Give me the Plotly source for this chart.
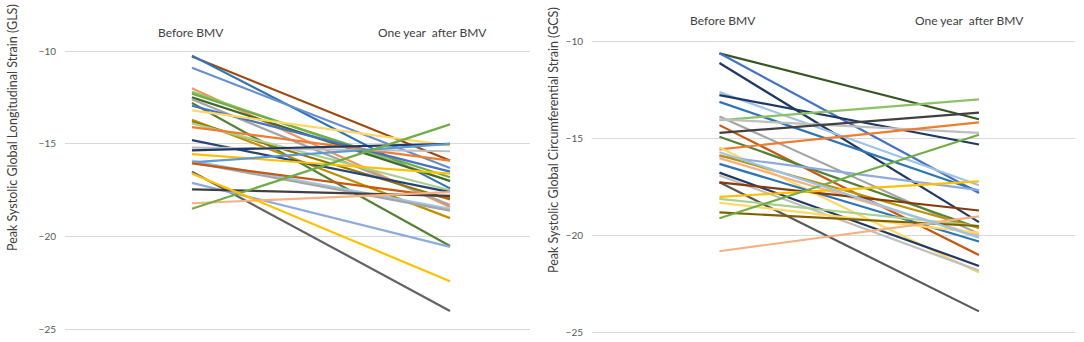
import plotly.graph_objects as go

categories = ["Before BMV", "One year  after BMV"]

# Left panel: GLS (before, after) per patient
gls_before = [-10.3, -10.25, -10.9, -12.0, -12.2, -12.3, -12.5, -12.6, -12.8, -12.95,
              -13.2, -13.7, -13.8, -13.9, -14.1, -14.8, -15.2, -15.35, -15.55, -15.9,
              -16.0, -16.0, -16.05, -16.5, -17.1, -17.45, -18.2, -18.5, -16.6]
gls_after = [-15.9, -17.4, -16.3, -18.4, -17.0, -16.8, -17.0, -18.3, -20.5, -16.5,
             -15.1, -19.0, -18.0, -17.5, -15.9, -17.6, -15.4, -15.0, -16.6, -18.5,
             -15.0, -18.6, -17.9, -24.0, -20.55, -17.8, -17.6, -13.95, -22.4]
gls_colors = ["#9E480E", "#2E75B6", "#698ED0", "#F1975A", "#8CC168", "#70AD47", "#43682B", "#A5A5A5", "#548235", "#4472C4",
              "#FFD966", "#BF9000", "#997300", "#A9D18E", "#ED7D31", "#264478", "#BFBFBF", "#1F3864", "#FFC000", "#9DC3E6",
              "#5B9BD5", "#A5A5A5", "#C55A11", "#636363", "#8FAADC", "#404040", "#F4B183", "#70AD47", "#FFC000"]

# Right panel: GCS (before, after) per patient
gcs_before = [-10.6, -10.6, -11.1, -12.6, -12.75, -13.1, -13.85, -14.05, -14.0, -14.3,
              -14.7, -14.9, -15.55, -15.45, -15.9, -15.85, -16.0, -16.3, -16.75, -16.9,
              -17.25, -17.25, -18.0, -18.1, -18.3, -18.8, -19.1, -20.8, -15.7]
gcs_after = [-14.0, -17.8, -19.3, -17.4, -15.3, -17.7, -19.9, -12.97, -14.7, -21.0,
             -13.66, -19.6, -14.16, -21.9, -17.65, -19.6, -20.0, -20.3, -21.56, -21.8,
             -23.9, -18.7, -17.2, -19.5, -19.85, -19.5, -14.8, -19.0, -20.1]
gcs_colors = ["#375623", "#4472C4", "#203864", "#9DC3E6", "#1F3864", "#2E75B6", "#A5A5A5", "#8CC168", "#BFBFBF", "#C55A11",
              "#404040", "#548235", "#ED7D31", "#FFD966", "#8FAADC", "#BF9000", "#F4B183", "#2E75B6", "#203864", "#BFBFBF",
              "#595959", "#843C0C", "#FFC000", "#A9D18E", "#FFD966", "#7F6000", "#70AD47", "#F4B183", "#9DC3E6"]

y_ticks = [-10, -15, -20, -25]

fig = go.Figure()
for b, a, c in zip(gls_before, gls_after, gls_colors):
    fig.add_trace(go.Scatter(x=categories, y=[b, a], mode="lines",
                             line=dict(color=c, width=2.2), xaxis="x", yaxis="y",
                             showlegend=False, hoverinfo="y"))
for b, a, c in zip(gcs_before, gcs_after, gcs_colors):
    fig.add_trace(go.Scatter(x=categories, y=[b, a], mode="lines",
                             line=dict(color=c, width=2.2), xaxis="x2", yaxis="y2",
                             showlegend=False, hoverinfo="y"))

W, H = 1084, 342

def px_x(p):
    return p / W

def px_y(p):
    return 1 - p / H

axis_common = dict(showgrid=True, gridcolor="#D9D9D9", gridwidth=1, zeroline=False,
                   showline=False, ticks="", tickvals=y_ticks, automargin=False,
                   tickfont=dict(family="Lato", size=10, color="#595959"),
                   ticklabelstandoff=8, range=[-25.2, -9.8])

fig.update_layout(
    width=W, height=H,
    margin=dict(l=0, r=0, t=0, b=0),
    paper_bgcolor="white", plot_bgcolor="white",
    xaxis=dict(domain=[px_x(65), px_x(530)], type="category", range=[-0.492, 1.31], automargin=False,
               showgrid=False, showticklabels=False, zeroline=False, anchor="y"),
    yaxis=dict(domain=[px_y(329.5 + 0.2 * 18.55), px_y(51 - 0.2 * 18.55)], anchor="x", **axis_common),
    xaxis2=dict(domain=[px_x(592), px_x(1075)], type="category", range=[-0.491, 1.37], automargin=False,
                showgrid=False, showticklabels=False, zeroline=False, anchor="y2"),
    yaxis2=dict(domain=[px_y(332.7 + 0.2 * 19.4), px_y(41.7 - 0.2 * 19.4)], anchor="x2", **axis_common),
    font=dict(family="Lato", color="#404040"),
)

ann_font = dict(family="Lato", size=12, color="#404040")
title_font = dict(family="Lato", size=12.5, color="#404040")
annotations = [
    dict(text=categories[0], x=px_x(191), y=px_y(32), xref="paper", yref="paper",
         showarrow=False, font=ann_font, xanchor="center", yanchor="middle"),
    dict(text=categories[1], x=px_x(432), y=px_y(32), xref="paper", yref="paper",
         showarrow=False, font=ann_font, xanchor="center", yanchor="middle"),
    dict(text=categories[0], x=px_x(723), y=px_y(20), xref="paper", yref="paper",
         showarrow=False, font=ann_font, xanchor="center", yanchor="middle"),
    dict(text=categories[1], x=px_x(969), y=px_y(20), xref="paper", yref="paper",
         showarrow=False, font=ann_font, xanchor="center", yanchor="middle"),
    dict(text="Peak Systolic Global Longitudinal Strain (GLS)", x=px_x(12), y=px_y(128),
         xref="paper", yref="paper", showarrow=False, textangle=-90,
         font=title_font, xanchor="center", yanchor="middle"),
    dict(text="Peak Systolic Global Circumferential Strain (GCS)", x=px_x(553), y=px_y(140),
         xref="paper", yref="paper", showarrow=False, textangle=-90,
         font=title_font, xanchor="center", yanchor="middle"),
]
fig.update_layout(annotations=annotations)

fig.write_html("out.html", config={"displayModeBar": False},
               post_script="document.body.style.margin='0';document.body.style.overflow='hidden';")
